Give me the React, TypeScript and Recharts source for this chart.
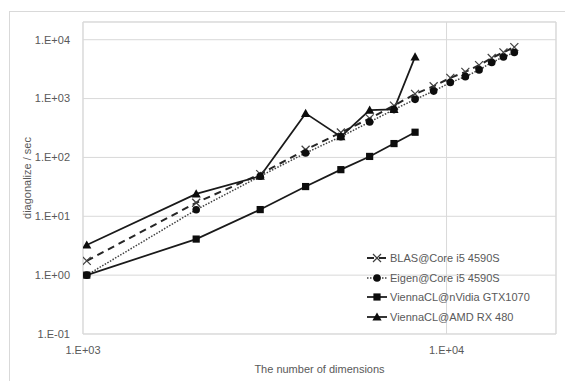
import React from "react";
import {
  CartesianGrid,
  Line,
  LineChart,
  ReferenceLine,
  XAxis,
  YAxis,
} from "recharts";

// matrix sizes (multiples of 1024)
const dims = [1024, 2048, 3072, 4096, 5120, 6144, 7168, 8192, 9216, 10240, 11264, 12288, 13312, 14336, 15360];
const blas = [1.75, 17, 52, 135, 265, 460, 760, 1200, 1620, 2250, 2850, 3700, 4900, 6100, 7500];
const eigen = [1.0, 12.9, 48, 119, 225, 400, 650, 970, 1340, 1870, 2360, 3070, 4100, 5100, 6070];
const nvidia = [1.0, 4.1, 13, 32, 62, 104, 172, 268];
const amd = [3.25, 24, 48, 560, 225, 637, 654, 5100];

const xTicks = [1000, 10000];
const yTicks = [0.1, 1, 10, 100, 1000, 10000];

const data = dims.map((n, i) => ({
  n,
  blas: blas[i],
  eigen: eigen[i],
  nvidia: nvidia[i],
  amd: amd[i],
}));

const FONT = "'Liberation Sans', Arial, sans-serif";
const TEXT = "#595959";
const GRID = "#d9d9d9";

const sci = (v: number) => {
  const e = Math.round(Math.log10(v));
  return "1.E" + (e < 0 ? "-" : "+") + String(Math.abs(e)).padStart(2, "0");
};

type Kind = "x" | "circle" | "square" | "triangle";

function marker(kind: Kind, cx: number, cy: number) {
  if (kind === "x")
    return (
      <g stroke="#404040" strokeWidth={1.2}>
        <line x1={cx - 4} y1={cy - 4} x2={cx + 4} y2={cy + 4} />
        <line x1={cx - 4} y1={cy + 4} x2={cx + 4} y2={cy - 4} />
      </g>
    );
  if (kind === "circle") return <circle cx={cx} cy={cy} r={3.8} fill="#0d0d0d" />;
  if (kind === "square") return <rect x={cx - 3.6} y={cy - 3.6} width={7.2} height={7.2} fill="#0d0d0d" />;
  return (
    <polygon
      points={`${cx},${cy - 4.6} ${cx - 4.6},${cy + 3.6} ${cx + 4.6},${cy + 3.6}`}
      fill="#0d0d0d"
    />
  );
}

const dotOf = (kind: Kind) => (p: any) => {
  if (p.value == null || p.cx == null || p.cy == null) return <g key={p.index} />;
  return <g key={p.index}>{marker(kind, p.cx, p.cy)}</g>;
};

const series = [
  { key: "blas", name: "BLAS@Core i5 4590S", kind: "x" as Kind, stroke: "#262626", width: 2, dash: "7 5" },
  { key: "eigen", name: "Eigen@Core i5 4590S", kind: "circle" as Kind, stroke: "#404040", width: 1.5, dash: "1.5 1.5" },
  { key: "nvidia", name: "ViennaCL@nVidia GTX1070", kind: "square" as Kind, stroke: "#1a1a1a", width: 1.75, dash: undefined },
  { key: "amd", name: "ViennaCL@AMD RX 480", kind: "triangle" as Kind, stroke: "#1a1a1a", width: 1.75, dash: undefined },
];

function LegendBox() {
  return (
    <div style={{ position: "absolute", left: 366, top: 248, fontFamily: FONT, fontSize: 11, color: TEXT }}>
      {series.map((s) => (
        <div key={s.key} style={{ display: "flex", alignItems: "center", height: 19.7 }}>
          <svg width={22} height={12} style={{ display: "block" }}>
            <line x1={1} y1={6} x2={21} y2={6} stroke={s.stroke} strokeWidth={s.width} strokeDasharray={s.dash} />
            {marker(s.kind, 11, 6)}
          </svg>
          <span style={{ marginLeft: 2, whiteSpace: "nowrap" }}>{s.name}</span>
        </div>
      ))}
    </div>
  );
}

export default function App() {
  return (
    <div style={{ position: "absolute", left: 0, top: 0, width: 565, height: 381, background: "#fff", overflow: "hidden" }}>
      <div
        style={{
          position: "absolute",
          left: 9,
          top: 11,
          width: 600,
          height: 400,
          borderTop: `1px solid ${GRID}`,
          borderLeft: `1px solid ${GRID}`,
        }}
      />
      <LineChart
        width={565}
        height={381}
        data={data}
        margin={{ top: 22, right: 9, bottom: 0, left: 0 }}
        style={{ position: "absolute", left: 0, top: 0 }}
      >
        <CartesianGrid stroke={GRID} strokeWidth={1} />
        <XAxis
          dataKey="n"
          type="number"
          scale="log"
          domain={[1000, 20000]}
          ticks={xTicks}
          allowDataOverflow
          height={47}
          tickFormatter={sci}
          tickLine={false}
          tickSize={10}
          tickMargin={2}
          axisLine={{ stroke: GRID }}
          tick={{ fill: TEXT, fontSize: 11, fontFamily: FONT }}
          label={{ value: "The number of dimensions", position: "insideBottom", offset: 8, fill: TEXT, fontSize: 11, fontFamily: FONT }}
        />
        <YAxis
          type="number"
          scale="log"
          domain={[0.1, 20000]}
          ticks={yTicks}
          allowDataOverflow
          width={83}
          tickFormatter={sci}
          tickLine={false}
          tickSize={13}
          tickMargin={0}
          axisLine={{ stroke: GRID }}
          tick={{ fill: TEXT, fontSize: 11, fontFamily: FONT }}
          label={{ value: "diagonalize / sec", angle: -90, position: "center", dx: -14, fill: TEXT, fontSize: 11, fontFamily: FONT }}
        />
        <ReferenceLine y={20000} stroke={GRID} />
        <ReferenceLine x={20000} stroke={GRID} />
        {series.map((s) => (
          <Line
            key={s.key}
            dataKey={s.key}
            name={s.name}
            type="linear"
            stroke={s.stroke}
            strokeWidth={s.width}
            strokeDasharray={s.dash}
            dot={dotOf(s.kind)}
            activeDot={false}
            isAnimationActive={false}
          />
        ))}
      </LineChart>
      <LegendBox />
    </div>
  );
}
